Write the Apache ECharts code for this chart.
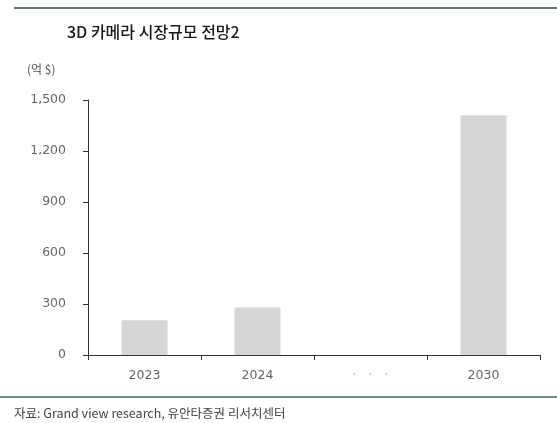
<!DOCTYPE html>
<html>
<head>
<meta charset="utf-8">
<script src="https://cdn.jsdelivr.net/npm/echarts@6/dist/echarts.min.js"></script>
<style>
html, body { margin: 0; padding: 0; background: #fff; }
#chart { width: 557px; height: 423px; }
</style>
</head>
<body>
<div id="chart"></div>
<script>
// 3D 카메라 시장규모 전망 (억 $)
var years = ['2023', '2024', '·   ·   ·', '2030'];
var marketSize = [205, 280, '-', 1410];
var yTicks = [0, 300, 600, 900, 1200, 1500];

window.onload = function () {
	drawChart();
};

function drawChart() {
	var myChart = echarts.init(document.getElementById('chart'));
	var font = '"Noto Sans CJK KR", "Noto Sans", sans-serif';
	var numFont = '"DejaVu Sans", sans-serif';

	var option = {
		backgroundColor: '#fff',
		animation: false,
		title: [
			{
				text: '3D 카메라 시장규모 전망2',
				left: 62, top: 19,
				textStyle: { fontFamily: font, fontSize: 16, fontWeight: 500, color: '#1a1a1a' }
			},
			{
				text: '(억 $)',
				left: 22, top: 58,
				textStyle: { fontFamily: font, fontSize: 12, fontWeight: 'normal', color: '#555' }
			},
			{
				text: '자료: Grand view research, 유안타증권 리서치센터',
				left: 9, top: 402,
				textStyle: { fontFamily: font, fontSize: 12.5, fontWeight: 'normal', color: '#444' }
			}
		],
		graphic: [
			{ type: 'line', shape: { x1: 14, y1: 8, x2: 557, y2: 8 }, style: { stroke: '#2f4747', lineWidth: 1.5 } },
			{ type: 'line', shape: { x1: 0, y1: 397, x2: 557, y2: 397 }, style: { stroke: '#3d6161', lineWidth: 1.5 } }
		],
		grid: { left: 88, right: 17, top: 100, bottom: 68 },
		xAxis: {
			type: 'category',
			data: years,
			axisLine: { lineStyle: { color: '#333', width: 1 } },
			axisTick: { show: true, length: 5, inside: false, lineStyle: { color: '#333' } },
			axisLabel: {
				fontFamily: numFont, fontSize: 12.5, color: '#666', margin: 14,
				formatter: function (v) {
					return v.indexOf('·') >= 0 ? '{dots|' + v + '}' : v;
				},
				rich: { dots: { color: '#aaa', fontSize: 12.5, fontFamily: numFont } }
			}
		},
		yAxis: {
			type: 'value',
			min: 0, max: 1500, interval: 300,
			splitLine: { show: false },
			axisLine: { show: true, lineStyle: { color: '#333', width: 1 } },
			axisTick: { show: true, length: 5, lineStyle: { color: '#333' } },
			axisLabel: {
				fontFamily: numFont, fontSize: 12.5, color: '#666', margin: 22,
				formatter: function (v) {
					return yTicks.indexOf(v) >= 0 ? String(v).replace(/\B(?=(\d{3})+(?!\d))/g, ',') : '';
				}
			}
		},
		series: [{
			type: 'bar',
			data: marketSize,
			barWidth: 46,
			itemStyle: { color: '#d6d6d6' }
		}]
	};

	myChart.setOption(option);
}
</script>
</body>
</html>
